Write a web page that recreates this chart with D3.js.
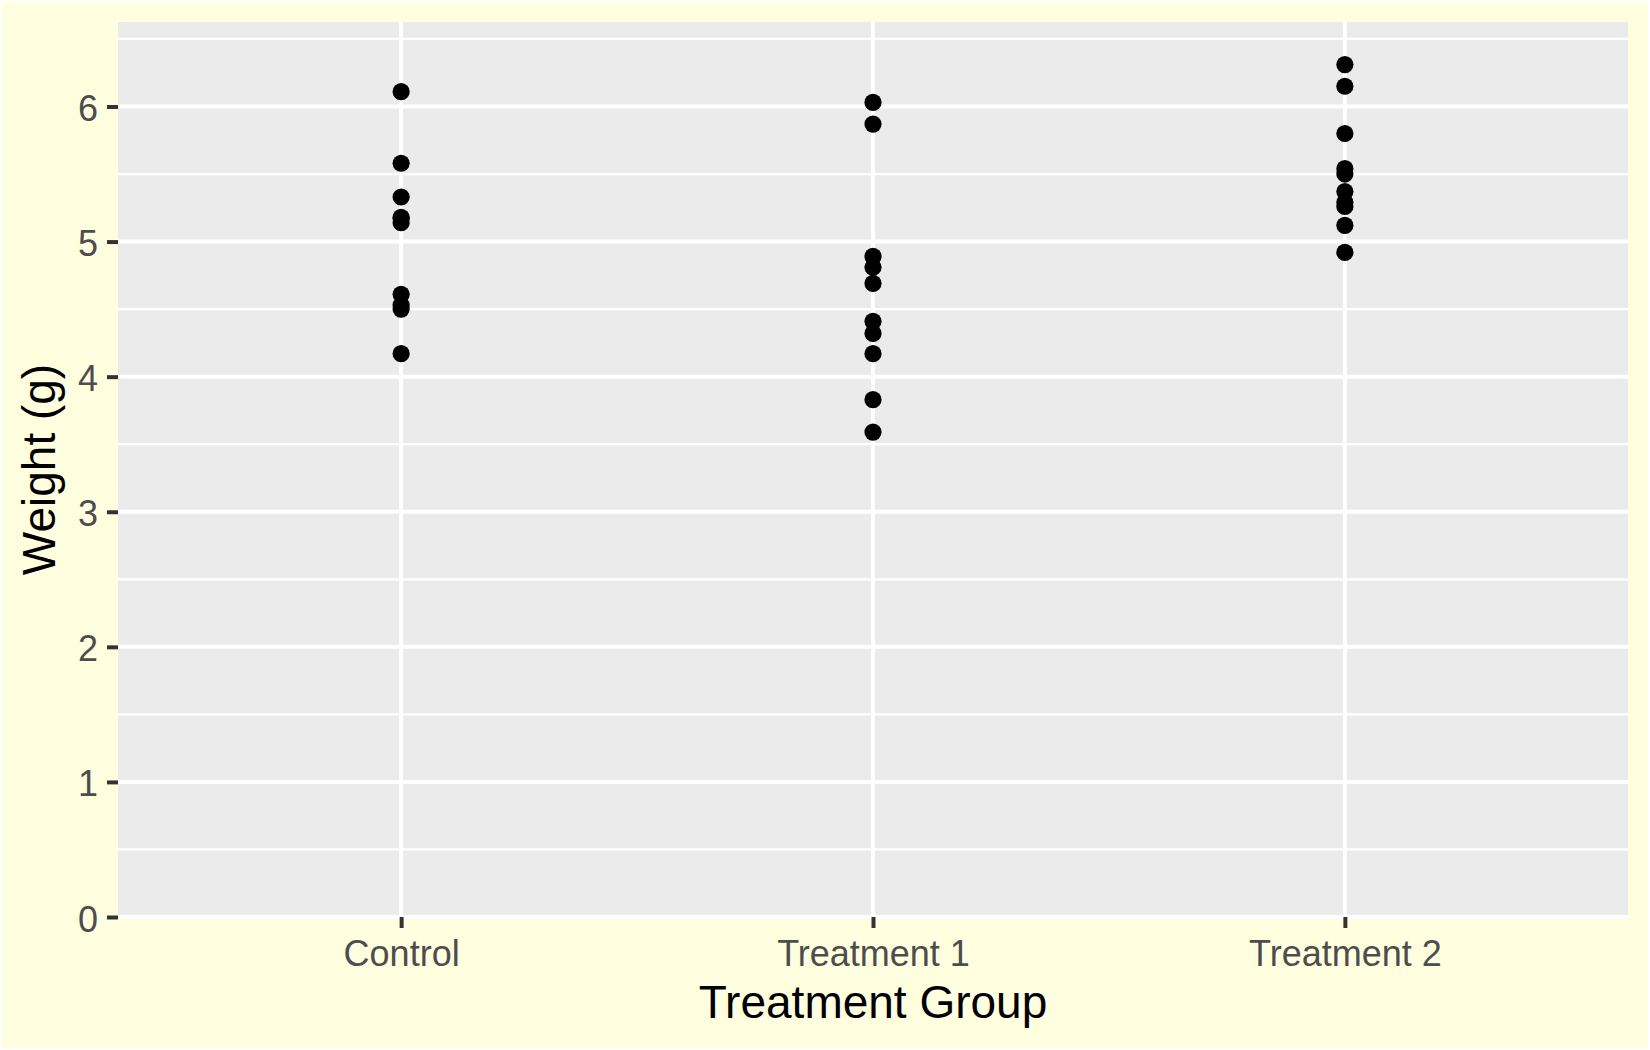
<!DOCTYPE html>
<html>
<head>
<meta charset="utf-8">
<script src="https://cdn.jsdelivr.net/npm/d3@7"></script>
<style>
  html, body { margin: 0; padding: 0; background: #fff; }
  svg { display: block; font-family: "Liberation Sans", Arial, sans-serif; }
</style>
</head>
<body>
<div id="chart"></div>
<script>
// PlantGrowth weights per group
const groups = ['Control', 'Treatment 1', 'Treatment 2'];
const ctrlWeights = [4.17, 5.58, 5.18, 6.11, 4.50, 4.61, 5.17, 4.53, 5.33, 5.14];
const trt1Weights = [4.81, 4.17, 4.41, 3.59, 5.87, 3.83, 6.03, 4.89, 4.32, 4.69];
const trt2Weights = [6.31, 5.12, 5.54, 5.50, 5.37, 5.29, 4.92, 6.15, 5.80, 5.26];
const yTicks = [0, 1, 2, 3, 4, 5, 6];
const yMinor = [0.5, 1.5, 2.5, 3.5, 4.5, 5.5, 6.5];

const width = 1650, height = 1050;
const margin = { top: 22, right: 22, bottom: 133, left: 118 };

const points = [];
[ctrlWeights, trt1Weights, trt2Weights].forEach((arr, i) => {
  arr.forEach(v => points.push({ group: groups[i], weight: v }));
});

const svg = d3.select('#chart').append('svg')
  .attr('width', width)
  .attr('height', height);

// plot background with white outline
svg.append('rect')
  .attr('x', 1).attr('y', 1)
  .attr('width', width - 2).attr('height', height - 2)
  .attr('fill', '#FFFFE0')
  .attr('stroke', '#fff')
  .attr('stroke-width', 2);

const x0 = margin.left, x1 = width - margin.right;
const y0 = height - margin.bottom, y1 = margin.top;

const x = d3.scalePoint().domain(groups).range([x0, x1]).padding(0.6);
const yMax = d3.max(points, d => d.weight);
const y = d3.scaleLinear().domain([0, yMax * 1.05]).range([y0, y1]);

// panel
svg.append('rect')
  .attr('x', x0).attr('y', y1)
  .attr('width', x1 - x0).attr('height', y0 - y1)
  .attr('fill', '#EBEBEB');

// grid
const grid = svg.append('g');
grid.selectAll('.minor').data(yMinor.filter(v => y(v) >= y1)).enter().append('line')
  .attr('x1', x0).attr('x2', x1)
  .attr('y1', d => y(d)).attr('y2', d => y(d))
  .attr('stroke', '#fff').attr('stroke-width', 2.2);
grid.selectAll('.major').data(yTicks).enter().append('line')
  .attr('x1', x0).attr('x2', x1)
  .attr('y1', d => y(d)).attr('y2', d => y(d))
  .attr('stroke', '#fff').attr('stroke-width', 4);
grid.selectAll('.vmajor').data(groups).enter().append('line')
  .attr('x1', d => x(d)).attr('x2', d => x(d))
  .attr('y1', y0).attr('y2', y1)
  .attr('stroke', '#fff').attr('stroke-width', 4);

// points
svg.append('g').selectAll('circle').data(points).enter().append('circle')
  .attr('cx', d => x(d.group))
  .attr('cy', d => y(d.weight))
  .attr('r', 8.6)
  .attr('fill', '#000');

// y axis
const yAxis = svg.append('g')
  .attr('transform', `translate(${x0},0)`)
  .call(d3.axisLeft(y).tickValues(yTicks).tickSize(11).tickPadding(9).tickFormat(d3.format('d')));
yAxis.select('.domain').remove();
yAxis.selectAll('.tick line').attr('stroke', '#333').attr('stroke-width', 4);
yAxis.selectAll('.tick text')
  .attr('fill', '#4D4D4D').attr('font-size', 36)
  .attr('dy', null).attr('y', 14);

// x axis
const xAxis = svg.append('g')
  .attr('transform', `translate(0,${y0})`)
  .call(d3.axisBottom(x).tickSize(11).tickPadding(0));
xAxis.select('.domain').remove();
xAxis.selectAll('.tick line').attr('stroke', '#333').attr('stroke-width', 4);
xAxis.selectAll('.tick text')
  .attr('fill', '#4D4D4D').attr('font-size', 36)
  .attr('dy', null).attr('y', 49);

// axis titles
svg.append('text')
  .attr('x', (x0 + x1) / 2).attr('y', 1018)
  .attr('text-anchor', 'middle')
  .attr('font-size', 46)
  .attr('fill', '#000')
  .text('Treatment Group');

svg.append('text')
  .attr('transform', `translate(55,${(y0 + y1) / 2}) rotate(-90)`)
  .attr('text-anchor', 'middle')
  .attr('font-size', 46)
  .attr('fill', '#000')
  .text('Weight (g)');
</script>
</body>
</html>
